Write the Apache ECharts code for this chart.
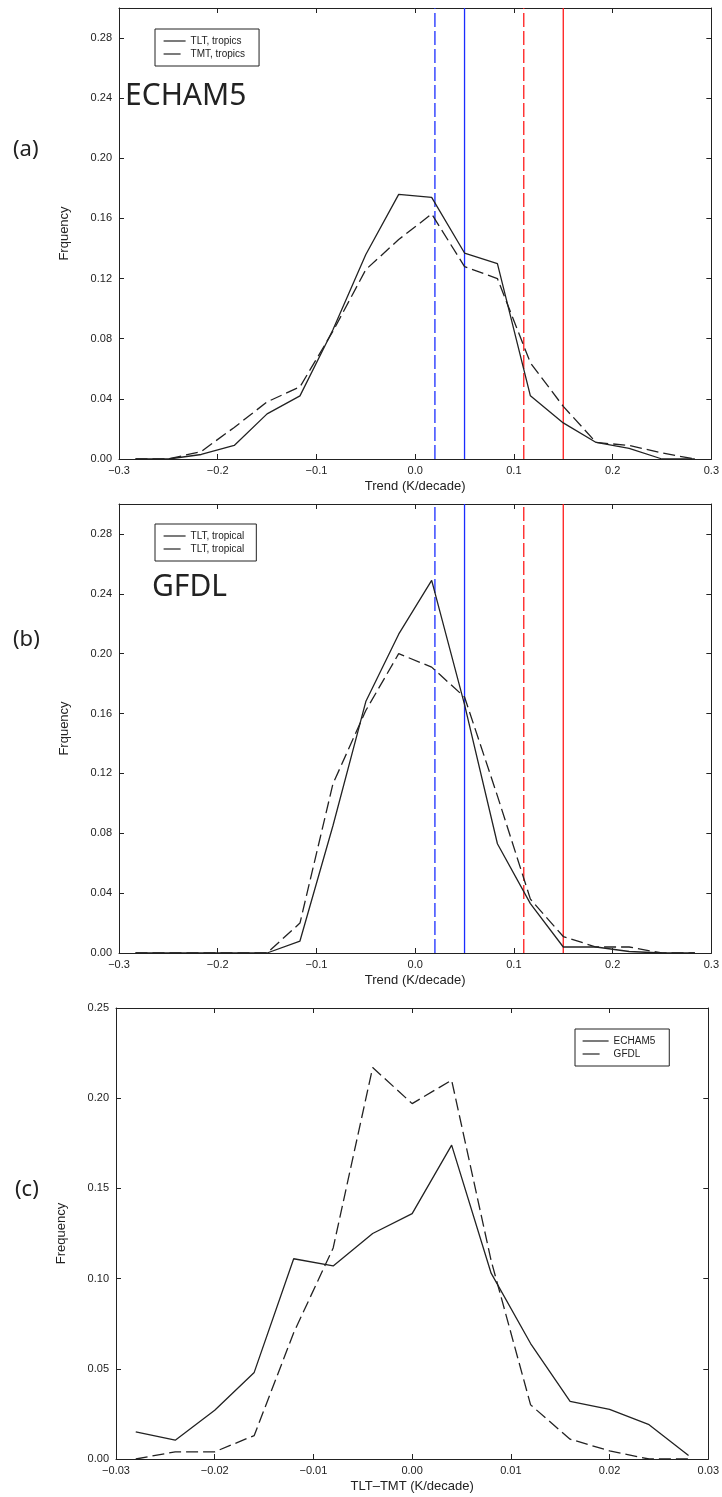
<!DOCTYPE html>
<html>
<head>
<meta charset="utf-8">
<script src="https://cdn.jsdelivr.net/npm/echarts@6/dist/echarts.min.js"></script>
<style>
  html, body { margin: 0; padding: 0; background: #fff; }
  #chart { width: 722px; height: 1497px; }
</style>
</head>
<body>
<div id="chart"></div>
<script>
// ---- Trend frequency distributions, tropical troposphere (K/decade) ----
const trendBins = [-0.2833, -0.25, -0.2167, -0.1833, -0.15, -0.1167, -0.0833, -0.05, -0.0167,
                   0.0167, 0.05, 0.0833, 0.1167, 0.15, 0.1833, 0.2167, 0.25, 0.2833];

// ECHAM5
const echamTLT = [0.000, 0.000, 0.003, 0.009, 0.030, 0.042, 0.086, 0.136, 0.176,
                  0.174, 0.137, 0.130, 0.042, 0.024, 0.011, 0.007, 0.000, 0.000];
const echamTMT = [0.000, 0.000, 0.005, 0.021, 0.038, 0.048, 0.085, 0.126, 0.146,
                  0.163, 0.128, 0.120, 0.064, 0.035, 0.011, 0.009, 0.004, 0.000];

// GFDL
const gfdlTLT = [0.000, 0.000, 0.000, 0.000, 0.000, 0.008, 0.085, 0.168, 0.213,
                 0.249, 0.166, 0.073, 0.033, 0.004, 0.004, 0.001, 0.000, 0.000];
const gfdlTMT = [0.000, 0.000, 0.000, 0.000, 0.000, 0.020, 0.113, 0.162, 0.200,
                 0.191, 0.171, 0.105, 0.036, 0.011, 0.004, 0.004, 0.000, 0.000];

// Observed trends drawn as vertical reference lines
const refValues = [0.02, 0.05, 0.11, 0.15];
const refColors = ['#1a2cff', '#1a2cff', '#ff1a1a', '#ff1a1a'];
const refDashed = [true, false, true, false];

// ---- TLT minus TMT trend differences ----
const diffBins = [-0.028, -0.024, -0.020, -0.016, -0.012, -0.008, -0.004, 0.000,
                  0.004, 0.008, 0.012, 0.016, 0.020, 0.024, 0.028];
const echamDiff = [0.015, 0.0104, 0.027, 0.048, 0.111, 0.107, 0.125, 0.136,
                   0.174, 0.103, 0.064, 0.032, 0.0275, 0.019, 0.002];
const gfdlDiff = [0.000, 0.004, 0.004, 0.013, 0.070, 0.117, 0.217, 0.197,
                  0.210, 0.110, 0.030, 0.011, 0.0045, 0.000, 0.000];

// Legend labels (series key -> drawn label)
const legendLabels = {
  aTLT: 'TLT, tropics', aTMT: 'TMT, tropics',
  bTLT: 'TLT, tropical', bTMT: 'TLT, tropical',
  cECHAM: 'ECHAM5', cGFDL: 'GFDL'
};

// ---- styling ----
const INK = '#222';
const CURVE = '#222';
const DASH = [12, 5];
const tickFont = { fontFamily: 'Liberation Sans', fontSize: 11, color: INK };
const nameFont = { fontFamily: 'Liberation Sans', fontSize: 13, color: INK };
const legendFont = { fontFamily: '"Liberation Sans Narrow", "Liberation Sans"', fontSize: 10, color: INK };

const fmt = (d) => (v) => (v < 0 ? '\u2212' : '') + Math.abs(v).toFixed(d);
const pairs = (xs, ys) => xs.map((x, i) => [x, ys[i]]);

const panels = [
  { grid: { left: 119, top: 8, width: 593, height: 451 },
    x: [-0.3, 0.3, 0.1, 1], y: [0, 0.30, 0.04, 2],
    xName: 'Trend (K/decade)', yName: 'Frquency' },
  { grid: { left: 119, top: 504, width: 593, height: 449 },
    x: [-0.3, 0.3, 0.1, 1], y: [0, 0.30, 0.04, 2],
    xName: 'Trend (K/decade)', yName: 'Frquency' },
  { grid: { left: 116, top: 1008, width: 593, height: 451 },
    x: [-0.03, 0.03, 0.01, 2], y: [0, 0.25, 0.05, 2],
    xName: 'TLT\u2013TMT (K/decade)', yName: 'Frequency' }
];

const axisLine = { show: true, onZero: false, lineStyle: { color: INK, width: 1 } };
const axisTick = { show: true, inside: true, length: 5, lineStyle: { color: INK, width: 1 } };

const xAxes = [], yAxes = [];
panels.forEach((p, i) => {
  const [x0, x1, xi, xd] = p.x;
  const [y0, y1, yi, yd] = p.y;
  const onStep = (v, step) => Math.abs(v / step - Math.round(v / step)) < 1e-6;
  const baseX = { gridIndex: i, type: 'value', min: x0, max: x1, interval: xi,
                  axisLine, axisTick, splitLine: { show: false } };
  const baseY = { gridIndex: i, type: 'value', min: y0, max: y1, interval: yi,
                  axisLine, axisTick, splitLine: { show: false } };
  xAxes.push(Object.assign({}, baseX, {
    position: 'bottom',
    axisLabel: Object.assign({ margin: 6, formatter: fmt(xd) }, tickFont),
    name: p.xName, nameLocation: 'middle', nameGap: 21, nameTextStyle: nameFont
  }));
  xAxes.push(Object.assign({}, baseX, { position: 'top', axisLabel: { show: false } }));
  yAxes.push(Object.assign({}, baseY, {
    position: 'left',
    axisLabel: Object.assign({ margin: 7,
      formatter: (v) => onStep(v, yi) ? fmt(yd)(v) : '' }, tickFont),
    name: p.yName, nameLocation: 'middle', nameGap: 48, nameRotate: 90, nameTextStyle: nameFont
  }));
  yAxes.push(Object.assign({}, baseY, { position: 'right', axisLabel: { show: false } }));
});

function curve(key, panel, xs, ys, dashed) {
  return {
    name: key, type: 'line', xAxisIndex: panel * 2, yAxisIndex: panel * 2,
    data: pairs(xs, ys), symbol: 'none', animation: false, z: 3,
    lineStyle: { color: CURVE, width: 1.3, type: dashed ? DASH : 'solid' },
    itemStyle: { color: CURVE }
  };
}

// one vertical line per observed trend, spanning the full frequency range
function refLine(panel, i) {
  const yTop = panels[panel].y[1];
  return {
    type: 'line', xAxisIndex: panel * 2, yAxisIndex: panel * 2,
    data: [[refValues[i], 0], [refValues[i], yTop]],
    symbol: 'none', silent: true, animation: false, z: 2,
    lineStyle: { color: refColors[i], width: 1.3, type: refDashed[i] ? [14, 4] : 'solid' },
    itemStyle: { color: refColors[i] }
  };
}

const series = [
  curve('aTLT', 0, trendBins, echamTLT, false),
  curve('aTMT', 0, trendBins, echamTMT, true),
  curve('bTLT', 1, trendBins, gfdlTLT, false),
  curve('bTMT', 1, trendBins, gfdlTMT, true),
  curve('cECHAM', 2, diffBins, echamDiff, false),
  curve('cGFDL', 2, diffBins, gfdlDiff, true)
];
[0, 1].forEach(p => refValues.forEach((_, i) => series.push(refLine(p, i))));

function legendBox(left, top, keys, itemWidth, padding) {
  return {
    left, top, orient: 'vertical', selectedMode: false,
    data: keys.map((k, i) => ({
      name: k,
      itemStyle: { opacity: 0, color: 'transparent', borderWidth: 0 },
      lineStyle: { color: CURVE, width: 1.2, type: i === 1 ? [17, 10] : 'solid' }
    })),
    itemWidth, itemHeight: 10, itemGap: 3, padding,
    borderColor: INK, borderWidth: 1, backgroundColor: '#fff',
    textStyle: legendFont,
    formatter: (name) => legendLabels[name]
  };
}

const legends = [
  legendBox(155, 29, ['aTLT', 'aTMT'], 22, [7, 14, 7, 8]),
  legendBox(155, 524, ['bTLT', 'bTMT'], 22, [7, 12, 7, 8]),
  legendBox(575, 1029, ['cECHAM', 'cGFDL'], 26, [7, 14, 7, 7])
];

const textEl = (x, y, text, size) => ({
  type: 'text', x, y, silent: true,
  style: { text, fill: INK, fontFamily: 'Noto Sans', fontSize: size,
           align: 'left', verticalAlign: 'middle' }
});

const option = {
  backgroundColor: '#fff',
  animation: false,
  grid: panels.map(p => Object.assign({ containLabel: false }, p.grid)),
  xAxis: xAxes,
  yAxis: yAxes,
  legend: legends,
  series,
  graphic: [
    textEl(13, 150, '(a)', 22),
    textEl(13, 640, '(b)', 22),
    textEl(15, 1190, '(c)', 22),
    textEl(125, 96, 'ECHAM5', 30),
    textEl(152, 587, 'GFDL', 30)
  ]
};

const chart = echarts.init(document.getElementById('chart'), null, { renderer: 'canvas' });
chart.setOption(option);
</script>
</body>
</html>
